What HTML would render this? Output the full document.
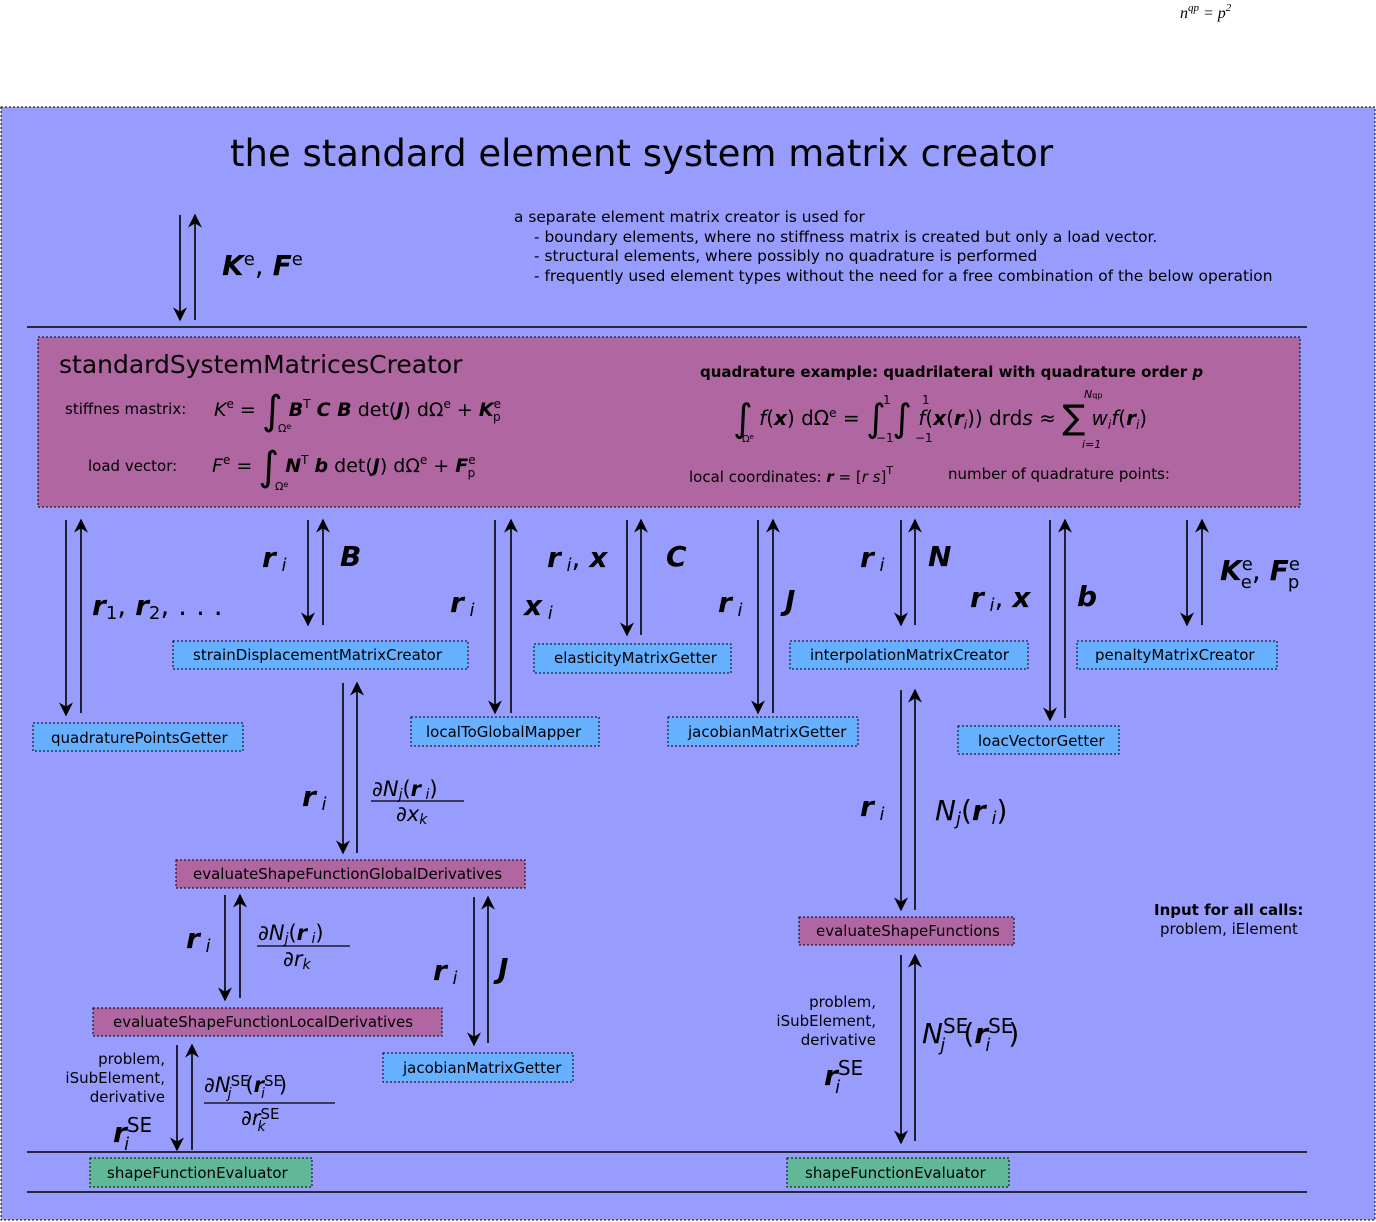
<!DOCTYPE html>
<html><head><meta charset="utf-8"><style>
body{margin:0;background:#fff}
svg{display:block}
text{font-family:"DejaVu Sans","Liberation Sans",sans-serif;fill:#000}
.m{font-style:italic;font-weight:bold;font-family:"DejaVu Sans",sans-serif}
.mi{font-style:italic;font-family:"DejaVu Sans",sans-serif}
</style></head><body>
<svg width="1376" height="1222" viewBox="0 0 1376 1222" xmlns="http://www.w3.org/2000/svg">
<defs>
<marker id="b" viewBox="0 0 10 10" refX="9" refY="5" markerWidth="14" markerHeight="14" markerUnits="userSpaceOnUse" orient="auto"><path d="M0,0 L10,5 L0,10 L3,5 z" fill="#000"/></marker>
</defs>
<text x="1180" y="18" class="mi" style="font-family:'Liberation Serif',serif;font-size:16px">n<tspan dy="-7" font-size="11">qp</tspan><tspan dy="7"> = p</tspan><tspan dy="-7" font-size="11">2</tspan></text>
<rect x="1" y="107" width="1374" height="1113" fill="#989dfd" stroke="#000" stroke-dasharray="2,2"/>
<text x="230" y="166" font-size="37">the standard element system matrix creator</text>
<g font-size="15.4">
<text x="514" y="222">a separate element matrix creator is used for</text>
<text x="534" y="242">- boundary elements, where no stiffness matrix is created but only a load vector.</text>
<text x="534" y="261">- structural elements, where possibly no quadrature is performed</text>
<text x="534" y="281">- frequently used element types without the need for a free combination of the below operation</text>
</g>
<line x1="27" y1="327" x2="1307" y2="327" stroke="#000" stroke-width="1.5"/>
<line x1="27" y1="1152" x2="1307" y2="1152" stroke="#000" stroke-width="1.5"/>
<line x1="27" y1="1192" x2="1307" y2="1192" stroke="#000" stroke-width="1.5"/>
<rect x="38" y="337" width="1262" height="170" fill="#b066a0" stroke="#000" stroke-dasharray="2,2"/>
<text x="59" y="373" font-size="25">standardSystemMatricesCreator</text>
<text x="65" y="414" font-size="15">stiffnes mastrix:</text>
<text x="88" y="471" font-size="15">load vector:</text>
<text x="214" y="416" font-size="19"><tspan class="mi">K</tspan><tspan dy="-8" font-size="12">e</tspan><tspan dy="8"> = </tspan><tspan font-size="40" dy="8">∫</tspan><tspan dy="-8">  </tspan><tspan class="m">B</tspan><tspan dy="-8" font-size="12">T</tspan><tspan dy="8"> </tspan><tspan class="m">C B</tspan><tspan> det(</tspan><tspan class="m">J</tspan><tspan>) dΩ</tspan><tspan dy="-8" font-size="12">e</tspan><tspan dy="8"> + </tspan><tspan class="m">K</tspan><tspan dy="-8" font-size="12">e</tspan><tspan dx="-8" dy="13" font-size="12">p</tspan></text>
<text x="278" y="432" font-size="11">Ω<tspan dy="-3" font-size="8">e</tspan></text>
<text x="212" y="472" font-size="19"><tspan class="mi">F</tspan><tspan dy="-8" font-size="12">e</tspan><tspan dy="8"> = </tspan><tspan font-size="40" dy="8">∫</tspan><tspan dy="-8">  </tspan><tspan class="m">N</tspan><tspan dy="-8" font-size="12">T</tspan><tspan dy="8"> </tspan><tspan class="m">b</tspan><tspan> det(</tspan><tspan class="m">J</tspan><tspan>) dΩ</tspan><tspan dy="-8" font-size="12">e</tspan><tspan dy="8"> + </tspan><tspan class="m">F</tspan><tspan dy="-8" font-size="12">e</tspan><tspan dx="-8" dy="13" font-size="12">p</tspan></text>
<text x="275" y="490" font-size="11">Ω<tspan dy="-3" font-size="8">e</tspan></text>
<text x="700" y="377" font-size="15" font-weight="bold">quadrature example: quadrilateral with quadrature order <tspan font-style="italic">p</tspan></text>
<text x="733" y="425" font-size="20"><tspan font-size="38" dy="6">∫</tspan><tspan dy="-6">   </tspan><tspan class="mi">f</tspan>(<tspan class="m">x</tspan>) dΩ<tspan dy="-8" font-size="12">e</tspan><tspan dy="8"> = </tspan><tspan font-size="38" dy="6">∫</tspan><tspan dy="-6">    </tspan><tspan font-size="38" dy="6">∫</tspan><tspan dy="-6">    </tspan><tspan class="mi">f</tspan>(<tspan class="m">x</tspan>(<tspan class="m">r</tspan><tspan class="mi" font-size="12" dy="4">i</tspan><tspan dy="-4">)) drd</tspan><tspan class="mi">s</tspan> ≈ <tspan font-size="34" dy="4">∑</tspan><tspan dy="-4"> </tspan><tspan class="mi">w</tspan><tspan class="mi" font-size="12" dy="4">i</tspan><tspan class="mi" dy="-4">f</tspan>(<tspan class="m">r</tspan><tspan class="mi" font-size="12" dy="4">i</tspan><tspan dy="-4">)</tspan></text>
<text x="742" y="442" font-size="10">Ω<tspan dy="-3" font-size="7">e</tspan></text>
<text x="883" y="404" font-size="12">1</text><text x="876" y="442" font-size="12">−1</text>
<text x="922" y="404" font-size="12">1</text><text x="915" y="442" font-size="12">−1</text>
<text x="1082" y="448" font-size="11" font-style="italic">i=1</text>
<text x="1084" y="398" font-size="11" font-style="italic">N<tspan font-size="8" font-style="normal">qp</tspan></text>
<text x="689" y="482" font-size="15">local coordinates: <tspan class="m">r</tspan> = [<tspan class="mi">r s</tspan>]<tspan dy="-8" font-size="11">T</tspan></text>
<text x="948" y="479" font-size="15">number of quadrature points:</text>

<g stroke="#000" stroke-width="1.6" fill="none">
<line x1="180" y1="215" x2="180" y2="320" marker-end="url(#b)"/><line x1="195" y1="320" x2="195" y2="215" marker-end="url(#b)"/>
<line x1="66" y1="520" x2="66" y2="715" marker-end="url(#b)"/><line x1="81" y1="713" x2="81" y2="520" marker-end="url(#b)"/>
<line x1="308" y1="520" x2="308" y2="625" marker-end="url(#b)"/><line x1="323" y1="625" x2="323" y2="520" marker-end="url(#b)"/>
<line x1="495" y1="520" x2="495" y2="713" marker-end="url(#b)"/><line x1="511" y1="713" x2="511" y2="520" marker-end="url(#b)"/>
<line x1="627" y1="520" x2="627" y2="635" marker-end="url(#b)"/><line x1="641" y1="635" x2="641" y2="520" marker-end="url(#b)"/>
<line x1="758" y1="520" x2="758" y2="713" marker-end="url(#b)"/><line x1="773" y1="713" x2="773" y2="520" marker-end="url(#b)"/>
<line x1="901" y1="520" x2="901" y2="625" marker-end="url(#b)"/><line x1="915" y1="625" x2="915" y2="520" marker-end="url(#b)"/>
<line x1="1050" y1="520" x2="1050" y2="720" marker-end="url(#b)"/><line x1="1065" y1="718" x2="1065" y2="520" marker-end="url(#b)"/>
<line x1="1187" y1="520" x2="1187" y2="625" marker-end="url(#b)"/><line x1="1202" y1="625" x2="1202" y2="520" marker-end="url(#b)"/>
<line x1="343" y1="683" x2="343" y2="853" marker-end="url(#b)"/><line x1="357" y1="853" x2="357" y2="683" marker-end="url(#b)"/>
<line x1="901" y1="690" x2="901" y2="910" marker-end="url(#b)"/><line x1="915" y1="910" x2="915" y2="690" marker-end="url(#b)"/>
<line x1="225" y1="895" x2="225" y2="1000" marker-end="url(#b)"/><line x1="240" y1="998" x2="240" y2="895" marker-end="url(#b)"/>
<line x1="474" y1="897" x2="474" y2="1045" marker-end="url(#b)"/><line x1="488" y1="1043" x2="488" y2="897" marker-end="url(#b)"/>
<line x1="177" y1="1045" x2="177" y2="1150" marker-end="url(#b)"/><line x1="192" y1="1150" x2="192" y2="1045" marker-end="url(#b)"/>
<line x1="901" y1="955" x2="901" y2="1143" marker-end="url(#b)"/><line x1="915" y1="1141" x2="915" y2="955" marker-end="url(#b)"/>
</g>

<g stroke="#000" stroke-dasharray="2,2" stroke-width="1">
<rect x="173" y="641" width="295" height="28" fill="#66b0ff"/>
<rect x="33" y="723" width="210" height="28" fill="#66b0ff"/>
<rect x="411" y="717" width="188" height="29" fill="#66b0ff"/>
<rect x="534" y="644" width="197" height="29" fill="#66b0ff"/>
<rect x="668" y="717" width="190" height="29" fill="#66b0ff"/>
<rect x="790" y="641" width="238" height="28" fill="#66b0ff"/>
<rect x="958" y="726" width="161" height="28" fill="#66b0ff"/>
<rect x="1077" y="641" width="200" height="28" fill="#66b0ff"/>
<rect x="383" y="1053" width="190" height="29" fill="#66b0ff"/>
<rect x="176" y="860" width="349" height="28" fill="#b066a0"/>
<rect x="799" y="917" width="215" height="28" fill="#b066a0"/>
<rect x="93" y="1008" width="349" height="28" fill="#b066a0"/>
<rect x="90" y="1158" width="222" height="29" fill="#60b898"/>
<rect x="787" y="1158" width="222" height="29" fill="#60b898"/>
</g>
<g font-size="15">
<text x="193" y="660">strainDisplacementMatrixCreator</text>
<text x="51" y="743">quadraturePointsGetter</text>
<text x="426" y="737">localToGlobalMapper</text>
<text x="554" y="663">elasticityMatrixGetter</text>
<text x="688" y="737">jacobianMatrixGetter</text>
<text x="810" y="660">interpolationMatrixCreator</text>
<text x="978" y="746">loacVectorGetter</text>
<text x="1095" y="660">penaltyMatrixCreator</text>
<text x="403" y="1073">jacobianMatrixGetter</text>
<text x="193" y="879">evaluateShapeFunctionGlobalDerivatives</text>
<text x="816" y="936">evaluateShapeFunctions</text>
<text x="113" y="1027">evaluateShapeFunctionLocalDerivatives</text>
<text x="107" y="1178">shapeFunctionEvaluator</text>
<text x="805" y="1178">shapeFunctionEvaluator</text>
</g>

<g font-size="28">
<text x="222" y="275"><tspan class="m">K</tspan><tspan dy="-10" font-size="18">e</tspan><tspan dy="10">, </tspan><tspan class="m">F</tspan><tspan dy="-10" font-size="18">e</tspan></text>
<text x="92" y="615"><tspan class="m">r</tspan><tspan font-size="18" dy="4">1</tspan><tspan dy="-4">, </tspan><tspan class="m">r</tspan><tspan font-size="18" dy="4">2</tspan><tspan dy="-4">, . . .</tspan></text>
<text x="262" y="567"><tspan class="m">r</tspan><tspan class="mi" font-size="18" dy="4"> i</tspan></text>
<text x="340" y="566" class="m">B</text>
<text x="450" y="612"><tspan class="m">r</tspan><tspan class="mi" font-size="18" dy="4"> i</tspan></text>
<text x="524" y="615"><tspan class="m">x</tspan><tspan class="mi" font-size="18" dy="4"> i</tspan></text>
<text x="547" y="567"><tspan class="m">r</tspan><tspan class="mi" font-size="18" dy="4"> i</tspan><tspan dy="-4">, </tspan><tspan class="m">x</tspan></text>
<text x="666" y="566" class="m">C</text>
<text x="718" y="612"><tspan class="m">r</tspan><tspan class="mi" font-size="18" dy="4"> i</tspan></text>
<text x="785" y="610" class="m">J</text>
<text x="860" y="567"><tspan class="m">r</tspan><tspan class="mi" font-size="18" dy="4"> i</tspan></text>
<text x="928" y="566" class="m">N</text>
<text x="970" y="607"><tspan class="m">r</tspan><tspan class="mi" font-size="18" dy="4"> i</tspan><tspan dy="-4">, </tspan><tspan class="m">x</tspan></text>
<text x="1077" y="606" class="m">b</text>
<text x="1220" y="580"><tspan class="m">K</tspan><tspan dy="-10" font-size="18">e</tspan><tspan dx="-12" dy="18" font-size="18">e</tspan><tspan dy="-8">, </tspan><tspan class="m">F</tspan><tspan dy="-10" font-size="18">e</tspan><tspan dx="-12" dy="18" font-size="18">p</tspan></text>
<text x="302" y="806"><tspan class="m">r</tspan><tspan class="mi" font-size="18" dy="4"> i</tspan></text>
<text x="860" y="816"><tspan class="m">r</tspan><tspan class="mi" font-size="18" dy="4"> i</tspan></text>
<text x="935" y="820"><tspan class="mi">N</tspan><tspan class="mi" font-size="18" dy="5">j</tspan><tspan dy="-5">(</tspan><tspan class="m">r</tspan><tspan class="mi" font-size="18" dy="4"> i</tspan><tspan dy="-4">)</tspan></text>
<text x="186" y="948"><tspan class="m">r</tspan><tspan class="mi" font-size="18" dy="4"> i</tspan></text>
<text x="433" y="980"><tspan class="m">r</tspan><tspan class="mi" font-size="18" dy="4"> i</tspan></text>
<text x="498" y="978" class="m">J</text>
<text x="922" y="1043"><tspan class="mi">N</tspan><tspan dy="-10" font-size="20">SE</tspan><tspan dx="-28" dy="18" font-size="18" class="mi">j</tspan><tspan dx="18" dy="-8">(</tspan><tspan class="m">r</tspan><tspan dy="-10" font-size="20">SE</tspan><tspan dx="-28" dy="18" font-size="18" class="mi">i</tspan><tspan dx="18" dy="-8">)</tspan></text>
<text x="824" y="1085"><tspan class="m">r</tspan><tspan dy="-10" font-size="20">SE</tspan><tspan dx="-28" dy="18" font-size="18" class="mi">i</tspan></text>
<text x="113" y="1142"><tspan class="m">r</tspan><tspan dy="-10" font-size="20">SE</tspan><tspan dx="-28" dy="18" font-size="18" class="mi">i</tspan></text>
</g>
<g font-size="21">
<text x="372" y="796"><tspan class="mi">∂N</tspan><tspan class="mi" font-size="14" dy="3">j</tspan><tspan dy="-3">(</tspan><tspan class="m">r</tspan><tspan class="mi" font-size="14" dy="3"> i</tspan><tspan dy="-3">)</tspan></text>
<line x1="371" y1="801" x2="464" y2="801" stroke="#000" stroke-width="1.3"/>
<text x="396" y="821" class="mi">∂x<tspan font-size="14" dy="3">k</tspan></text>
<text x="258" y="940"><tspan class="mi">∂N</tspan><tspan class="mi" font-size="14" dy="3">j</tspan><tspan dy="-3">(</tspan><tspan class="m">r</tspan><tspan class="mi" font-size="14" dy="3"> i</tspan><tspan dy="-3">)</tspan></text>
<line x1="257" y1="946" x2="350" y2="946" stroke="#000" stroke-width="1.3"/>
<text x="283" y="966" class="mi">∂r<tspan font-size="14" dy="3">k</tspan></text>
<text x="204" y="1092"><tspan class="mi">∂N</tspan><tspan dy="-6" font-size="15">SE</tspan><tspan dx="-22" dy="12" font-size="14" class="mi">j</tspan><tspan dx="14" dy="-6">(</tspan><tspan class="m">r</tspan><tspan dy="-6" font-size="15">SE</tspan><tspan dx="-22" dy="12" font-size="14" class="mi">i</tspan><tspan dx="14" dy="-6">)</tspan></text>
<line x1="204" y1="1103" x2="335" y2="1103" stroke="#000" stroke-width="1.3"/>
<text x="241" y="1125"><tspan class="mi">∂r</tspan><tspan dy="-6" font-size="15">SE</tspan><tspan dx="-22" dy="12" font-size="14" class="mi">k</tspan></text>
</g>
<g font-size="15" text-anchor="end">
<text x="165" y="1064">problem,</text>
<text x="165" y="1083">iSubElement,</text>
<text x="165" y="1102">derivative</text>
<text x="876" y="1007">problem,</text>
<text x="876" y="1026">iSubElement,</text>
<text x="876" y="1045">derivative</text>
</g>
<text x="1154" y="915" font-size="15" font-weight="bold">Input for all calls:</text>
<text x="1160" y="934" font-size="15">problem, iElement</text>
</svg>
</body></html>
